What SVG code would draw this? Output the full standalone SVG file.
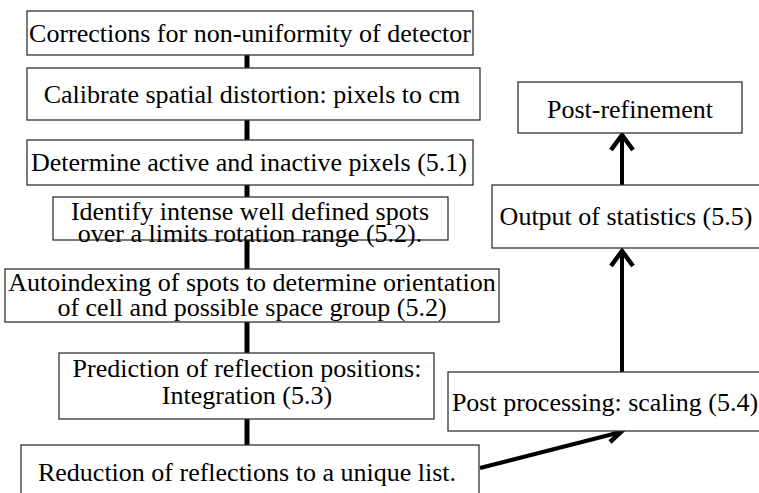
<svg xmlns="http://www.w3.org/2000/svg" width="759" height="493" viewBox="0 0 759 493">
<style>
.box{fill:#fff;stroke:#333;stroke-width:1.3}
.t{font-size:26px;fill:#000;text-anchor:middle}
.c{stroke:#000;stroke-width:5;fill:none}
.a{stroke:#000;stroke-width:4;fill:none}
.h{stroke:#000;stroke-width:4.5;fill:none;stroke-linejoin:miter;stroke-linecap:butt}
</style>
<g id="connectors">
<line class="c" x1="247" y1="55" x2="247" y2="68"/>
<line class="c" x1="247" y1="120" x2="247" y2="140"/>
<line class="c" x1="247" y1="185" x2="247" y2="197"/>
<line class="c" x1="247" y1="240" x2="247" y2="269"/>
<line class="c" x1="247" y1="322" x2="247" y2="353"/>
<line class="c" x1="247" y1="419" x2="247" y2="445"/>
<line class="a" x1="622" y1="372" x2="622" y2="252"/>
<path class="h" d="M611,266 L622,251 L633,266"/>
<line class="a" x1="622" y1="185" x2="622" y2="136"/>
<path class="h" d="M611,150 L622,135 L633,150"/>
<line class="a" x1="480" y1="468" x2="621" y2="432" stroke-width="3.5"/>
<path class="h" d="M606,427 L622,431 L610,442"/>
</g>
<g font-family="'Liberation Serif', 'Times New Roman', Tinos, 'DejaVu Serif', serif">
<g id="n1"><rect class="box" x="27" y="11" width="446" height="44"/><text class="t" x="250" y="42">Corrections for non-uniformity of detector</text></g>
<g id="n2"><rect class="box" x="27" y="68" width="453" height="52"/><text class="t" x="252" y="103">Calibrate spatial distortion: pixels to cm</text></g>
<g id="n3"><rect class="box" x="27" y="140" width="446" height="45"/><text class="t" x="249" y="171">Determine active and inactive pixels (5.1)</text></g>
<g id="n4"><rect class="box" x="53" y="197" width="395" height="43"/><text class="t" x="250" y="220">Identify intense well defined spots</text><text class="t" x="250" y="242">over a limits rotation range (5.2).</text></g>
<g id="n5"><rect class="box" x="5" y="269" width="494" height="53"/><text class="t" x="252" y="291">Autoindexing of spots to determine orientation</text><text class="t" x="252" y="316">of cell and possible space group (5.2)</text></g>
<g id="n6"><rect class="box" x="59" y="353" width="375" height="66"/><text class="t" x="247" y="377">Prediction of reflection positions:</text><text class="t" x="247" y="404">Integration (5.3)</text></g>
<g id="n7"><rect class="box" x="21" y="445" width="458" height="60"/><text class="t" x="247" y="481">Reduction of reflections to a unique list.</text></g>
<g id="n8"><rect class="box" x="518" y="82" width="224" height="51"/><text class="t" x="630" y="118">Post-refinement</text></g>
<g id="n9"><rect class="box" x="492" y="185" width="280" height="63"/><text class="t" x="626" y="225">Output of statistics (5.5)</text></g>
<g id="n10"><rect class="box" x="448" y="372" width="324" height="59"/><text class="t" x="605" y="411">Post processing: scaling (5.4)</text></g>
</g>
</svg>
